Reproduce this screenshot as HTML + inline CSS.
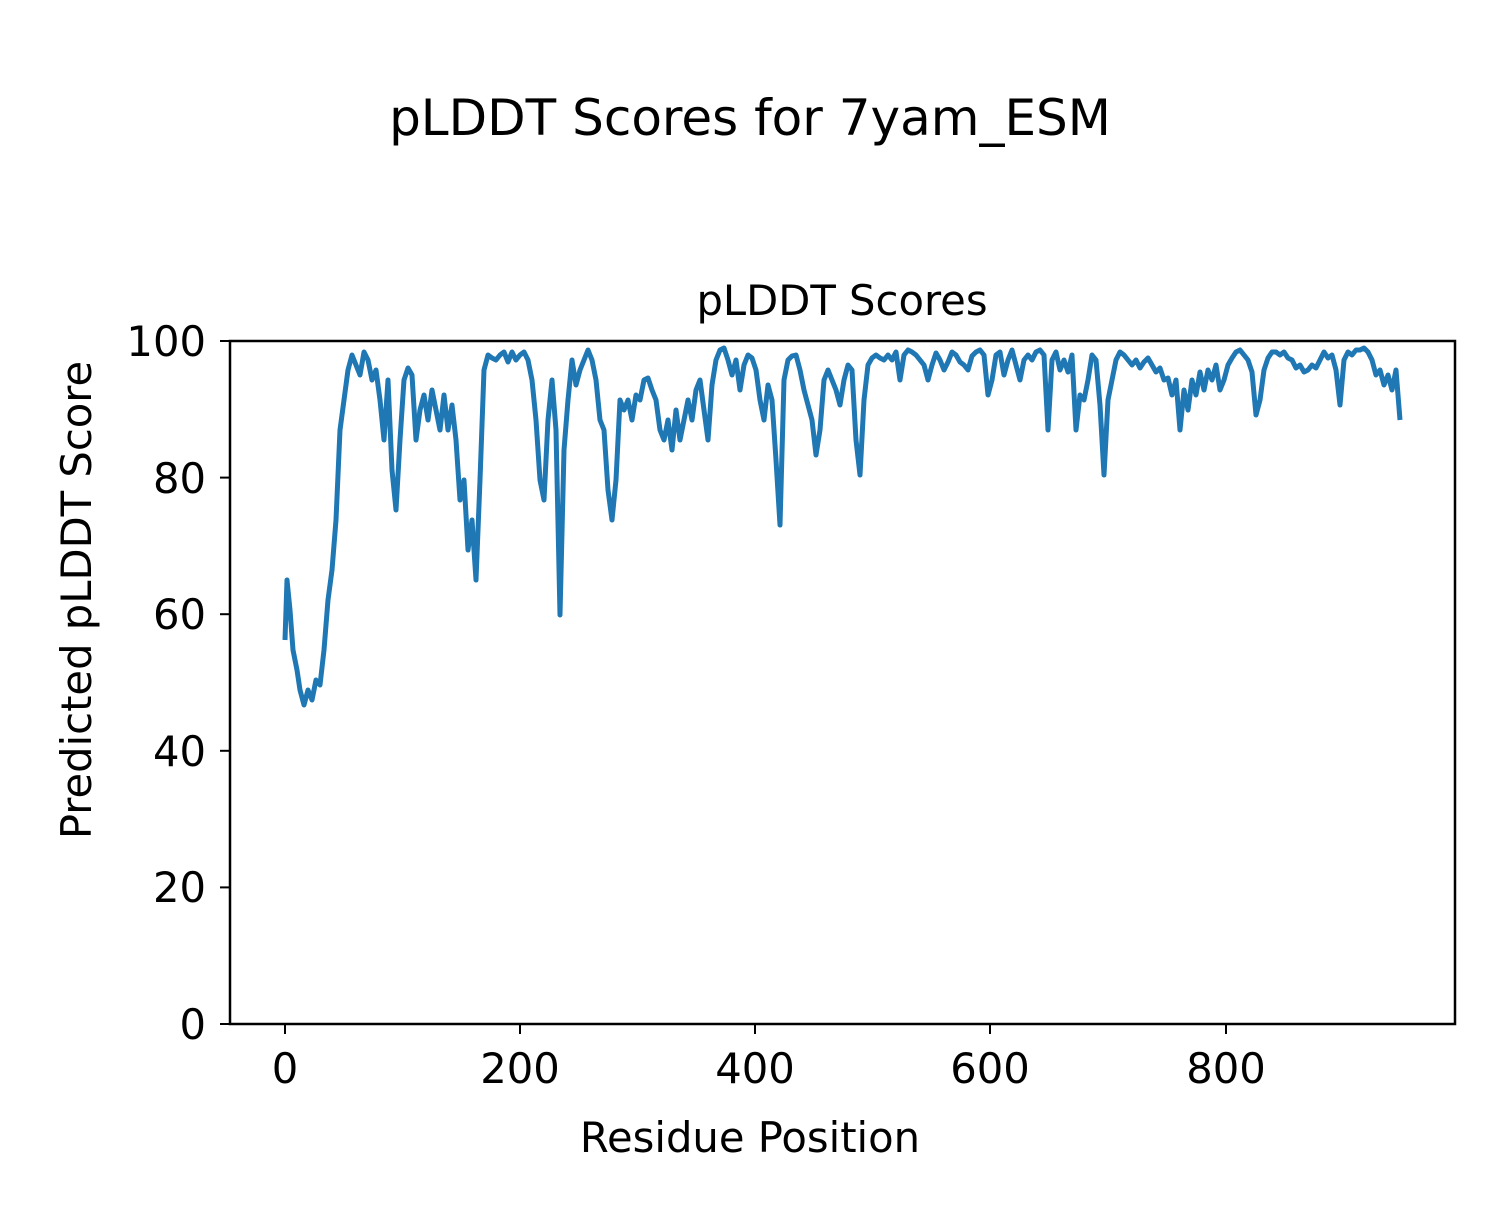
<!DOCTYPE html>
<html><head><style>body{margin:0;background:#fff}svg text{font-family:"DejaVu Sans","Liberation Sans",sans-serif;fill:#000}</style></head><body>
<svg width="1500" height="1200" xmlns="http://www.w3.org/2000/svg">
<rect width="1500" height="1200" fill="#fff"/>
<text x="750" y="135" font-size="50" text-anchor="middle">pLDDT Scores for 7yam_ESM</text>
<text x="842" y="315" font-size="41.7" text-anchor="middle">pLDDT Scores</text>
<polyline fill="none" stroke="#1f77b4" stroke-width="5" stroke-linejoin="round" points="285,640 287,580 290,610 293,650 297,670 300,690 304,705 308,690 312,700 316,680 320,685 324,650 328,600 332,570 336,520 340,430 344,400 348,370 352,355 356,365 360,375 364,352 368,360 372,380 376,370 380,400 384,440 388,380 392,470 396,510 400,440 404,380 408,368 412,375 416,440 420,410 424,395 428,420 432,390 436,410 440,430 444,395 448,430 452,405 456,440 460,500 464,480 468,550 472,520 476,580 480,480 484,370 488,355 492,358 496,360 500,355 504,352 508,362 512,352 516,360 520,355 524,352 528,360 532,380 536,420 540,480 544,500 548,420 552,380 556,430 560,615 564,450 568,400 572,360 576,385 580,370 584,360 588,350 592,360 596,380 600,420 604,430 608,490 612,520 616,480 620,400 624,410 628,400 632,420 636,395 640,400 644,380 648,378 652,390 656,400 660,430 664,440 668,420 672,450 676,410 680,440 684,420 688,400 692,420 696,390 700,380 704,410 708,440 712,385 716,360 720,350 724,348 728,360 732,375 736,360 740,390 744,365 748,355 752,358 756,370 760,400 764,420 768,385 772,400 776,460 780,525 784,380 788,360 792,356 796,355 800,370 804,390 808,405 812,420 816,455 820,430 824,380 828,370 832,380 836,390 840,405 844,380 848,365 852,370 856,440 860,475 864,400 868,365 872,358 876,355 880,358 884,360 888,355 892,360 896,352 900,380 904,355 908,350 912,352 916,355 920,360 924,365 928,380 932,365 936,353 940,360 944,370 948,362 952,352 956,355 960,362 964,365 968,370 972,356 976,352 980,350 984,355 988,395 992,380 996,355 1000,352 1004,375 1008,360 1012,350 1016,365 1020,380 1024,360 1028,355 1032,360 1036,352 1040,350 1044,355 1048,430 1052,360 1056,352 1060,370 1064,360 1068,372 1072,355 1076,430 1080,395 1084,400 1088,380 1092,355 1096,360 1100,405 1104,475 1108,400 1112,380 1116,360 1120,352 1124,355 1128,360 1132,365 1136,360 1140,368 1144,362 1148,358 1152,365 1156,372 1160,368 1164,380 1168,378 1172,395 1176,380 1180,430 1184,390 1188,410 1192,380 1196,395 1200,372 1204,390 1208,370 1212,380 1216,365 1220,390 1224,380 1228,365 1232,358 1236,352 1240,350 1244,355 1248,360 1252,372 1256,415 1260,400 1264,370 1268,358 1272,352 1276,352 1280,355 1284,352 1288,358 1292,360 1296,368 1300,365 1304,372 1308,370 1312,365 1316,368 1320,360 1324,352 1328,358 1332,355 1336,370 1340,405 1344,360 1348,352 1352,355 1356,350 1360,350 1364,348 1368,352 1372,360 1376,375 1380,370 1384,385 1388,375 1392,390 1396,370 1400,420"/>
<rect x="230" y="341" width="1225" height="683" fill="none" stroke="#000" stroke-width="2.5"/>
<g stroke="#000" stroke-width="2">
<line x1="285" y1="1024" x2="285" y2="1034"/><line x1="520" y1="1024" x2="520" y2="1034"/><line x1="755" y1="1024" x2="755" y2="1034"/><line x1="990" y1="1024" x2="990" y2="1034"/><line x1="1226" y1="1024" x2="1226" y2="1034"/>
<line x1="220" y1="1024" x2="230" y2="1024"/><line x1="220" y1="887.4" x2="230" y2="887.4"/><line x1="220" y1="750.8" x2="230" y2="750.8"/><line x1="220" y1="614.2" x2="230" y2="614.2"/><line x1="220" y1="477.6" x2="230" y2="477.6"/><line x1="220" y1="341" x2="230" y2="341"/>
</g>
<g font-size="41.7" text-anchor="middle">
<text x="285" y="1083">0</text><text x="520" y="1083">200</text><text x="755" y="1083">400</text><text x="990" y="1083">600</text><text x="1226" y="1083">800</text>
</g>
<g font-size="41.7" text-anchor="end">
<text x="206" y="1039">0</text><text x="206" y="902">20</text><text x="206" y="766">40</text><text x="206" y="629">60</text><text x="206" y="493">80</text><text x="206" y="356">100</text>
</g>
<text x="750" y="1152" font-size="41.7" text-anchor="middle">Residue Position</text>
<text transform="translate(91,600) rotate(-90)" font-size="41.7" text-anchor="middle">Predicted pLDDT Score</text>
</svg>
</body></html>
